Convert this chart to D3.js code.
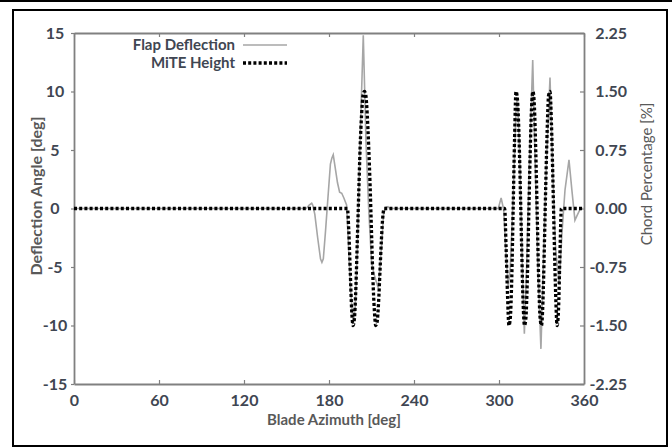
<!DOCTYPE html>
<html><head><meta charset="utf-8">
<script src="https://cdn.jsdelivr.net/npm/d3@7"></script>
<style>body{margin:0;background:#fff}svg{display:block}text{font-family:Lato,"Open Sans",sans-serif}</style>
</head><body><svg id="c" width="672" height="448"></svg>
<script>
// ---- data ----
const flapAzimuth = [0,164,166,167.8,168.5,170,172,174,175,176,177.5,179,181,182,183,184,186,187.5,189,190.5,192.4,193.5,195,196.5,197.3,198.5,200,201.9,203,204.2,206.1,208,210,211.5,213.5,214.8,216,217.2,218.5,220,221.6,223,
  299.5,301.5,303.3,305,306.5,308,310,312,313,314.5,316.5,317.9,319.5,321.5,323.8,325.5,327.5,329.6,331.5,333.5,336,338,340,342.5,344.5,346.6,349.4,351.5,353.6,355.5,357.5,360];
const flapDeflection = [0,0,0.3,0.45,0.3,-0.5,-2.5,-4.3,-4.6,-4.3,-2,0.5,3.8,4.3,4.6,3.8,2.2,1.4,1.3,0.9,0.3,-2.5,-6.5,-9,-9.6,-8.5,-3.5,5.7,10,14.8,5.7,0,-4.5,-5.5,-6.3,-6.8,-5,-3,-0.5,0.1,0.15,0,
  0,0.9,-0.1,-4,-6.7,-5,1,8.5,9.5,5,-5,-10.7,-5,4,12.7,4,-5,-12,-4,4,11.2,3,-3.5,-6.5,-2,1.6,4.15,1.5,-1,-0.5,0,0];
const miteAzimuth = [0,193,194,195,196,197,198,199,200,201,202,203,204,205,206,207,208,209,210,211,212,213,214,215,216,217,218,219,
  304,305,306,307,308,309,310,311,312,313,314,315,316,317,318,319,320,321,322,323,324,325,326,327,328,329,330,331,332,333,334,335,336,337,338,339,340,341,342,343,344,360];
const miteHeight = [0,0,-0.3,-0.8,-1.3,-1.5,-1.4,-1.0,-0.4,0.2,0.8,1.2,1.45,1.5,1.45,1.2,0.8,0.3,-0.3,-0.9,-1.3,-1.5,-1.45,-1.2,-0.8,-0.4,-0.1,0,
  0,-0.5,-1.1,-1.5,-1.4,-0.9,0,0.9,1.5,1.4,1.0,0.3,-0.5,-1.2,-1.5,-1.4,-0.9,-0.1,0.7,1.3,1.5,1.3,0.7,-0.1,-0.9,-1.4,-1.5,-1.2,-0.5,0.3,1.0,1.45,1.5,1.1,0.4,-0.4,-1.1,-1.5,-1.3,-0.6,0,0];
const xTicks = [0,60,120,180,240,300,360];
const leftTicks = [-15,-10,-5,0,5,10,15];
const rightTicks = [-2.25,-1.5,-0.75,0,0.75,1.5,2.25];
const seriesNames = ["Flap Deflection","MiTE Height"];

// ---- chart ----
const svg = d3.select("#c");
const L=74, R=584, T=33, B=384;
const x = d3.scaleLinear().domain([0,360]).range([L,R]);
const yL = d3.scaleLinear().domain([-15,15]).range([B,T]);
const yR = d3.scaleLinear().domain([-2.25,2.25]).range([B,T]);
const axisCol="#808080", txtCol="#3f4652";
const fmtR = v => d3.format(".2f")(v).replace("\u2212","-");
const fmtL = v => String(v);

// frames
svg.append("line").attr("x1",0).attr("x2",672).attr("y1",1).attr("y2",1).attr("stroke","#000").attr("stroke-width",2);
svg.append("rect").attr("x",13).attr("y",10).attr("width",654).attr("height",436).attr("fill","none").attr("stroke","#000").attr("stroke-width",2);

// axes
const gB = svg.append("g").attr("transform",`translate(0,${B})`).call(d3.axisBottom(x).tickValues(xTicks).tickSizeInner(-4).tickSizeOuter(0).tickPadding(8));
const gT = svg.append("g").attr("transform",`translate(0,${T})`).call(d3.axisTop(x).tickValues(xTicks).tickSizeInner(-4).tickSizeOuter(0).tickFormat(""));
const gL = svg.append("g").attr("transform",`translate(${L},0)`).call(d3.axisLeft(yL).tickValues(leftTicks).tickSizeInner(3).tickSizeOuter(0).tickFormat(fmtL));
const gR = svg.append("g").attr("transform",`translate(${R},0)`).call(d3.axisRight(yR).tickValues(rightTicks).tickSizeInner(-4).tickSizeOuter(0).tickFormat(fmtR));
[gB,gT,gL,gR].forEach(g=>{
  g.select(".domain").attr("stroke",axisCol).attr("stroke-width",1.8);
  g.selectAll(".tick line").attr("stroke",axisCol).attr("stroke-width",1.2);
  g.selectAll("text").attr("fill",txtCol).attr("font-weight","bold").attr("font-size",16).attr("font-family","Lato");
});
gB.selectAll("text").attr("dy","0.9em");
gL.selectAll("text").attr("text-anchor","middle").attr("x",-19);
gR.selectAll("text").attr("text-anchor","end").attr("x",43);

// lines
const flapData = flapAzimuth.map((a,i)=>[a,flapDeflection[i]]);
const miteData = miteAzimuth.map((a,i)=>[a,miteHeight[i]]);
svg.append("path").datum(flapData).attr("fill","none").attr("stroke","#a6a6a6").attr("stroke-width",1.6)
  .attr("d",d3.line().x(d=>x(d[0])).y(d=>yL(d[1])));
svg.append("path").datum(miteData).attr("fill","none").attr("stroke","#000").attr("stroke-width",3.3).attr("stroke-dasharray","3,2.2")
  .attr("d",d3.line().x(d=>x(d[0])).y(d=>yR(d[1])).curve(d3.curveMonotoneX));

// titles
svg.append("text").attr("x",334).attr("y",425).attr("text-anchor","middle").attr("font-size",15).attr("font-weight","bold").attr("fill","#595959").text("Blade Azimuth [deg]");
svg.append("text").attr("transform","translate(42,196) rotate(-90)").attr("text-anchor","middle").attr("font-size",16).attr("font-weight","bold").attr("fill","#595959").text("Deflection Angle [deg]");
svg.append("text").attr("transform","translate(652,174) rotate(-90)").attr("text-anchor","middle").attr("font-size",15).attr("fill","#595959").text("Chord Percentage [%]");

// legend
const leg = svg.append("g");
[0,1].forEach(i=>{
  const yy = 45 + i*18;
  leg.append("text").attr("x",235).attr("y",yy).attr("dy","0.35em").attr("text-anchor","end").attr("font-size",15).attr("font-weight","bold").attr("fill",txtCol).text(seriesNames[i]);
  const ln = leg.append("line").attr("x1",243).attr("x2",287).attr("y1",yy).attr("y2",yy);
  if(i===0) ln.attr("stroke","#a6a6a6").attr("stroke-width",1.6);
  else ln.attr("stroke","#000").attr("stroke-width",3.3).attr("stroke-dasharray","3,2.2");
});
</script></body></html>
